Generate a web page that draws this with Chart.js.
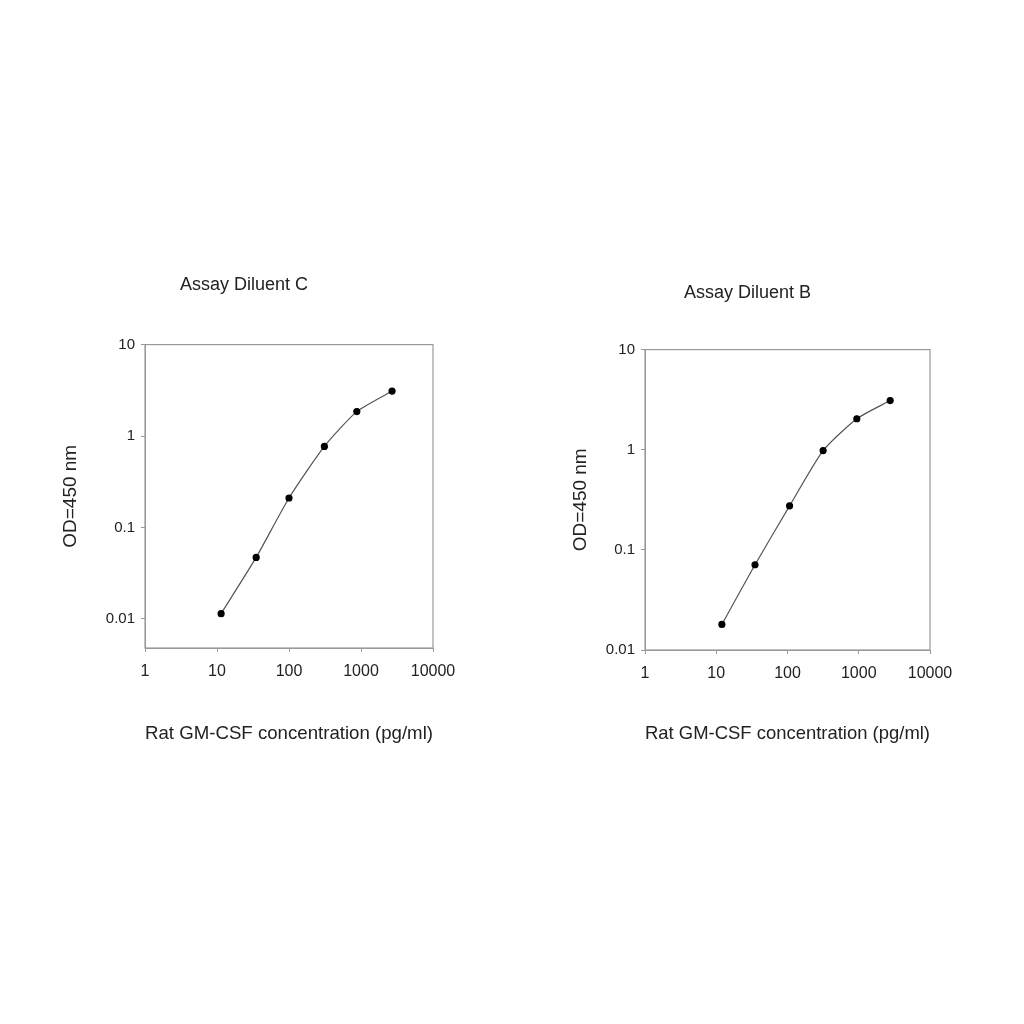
<!DOCTYPE html><html><head><script src="https://cdn.jsdelivr.net/npm/chart.js@4"></script>
<style>body{margin:0;background:#fff;width:1024px;height:1024px;position:relative}canvas{position:absolute}</style></head><body>
<canvas id="c1" style="left:55px;top:260px;width:468px;height:489px" width="468" height="489"></canvas>
<canvas id="c2" style="left:565px;top:260px;width:448px;height:489px" width="448" height="489"></canvas>
<script>
const concC=[11.4,35,100,310,875,2700];
const odC=[0.0114,0.047,0.21,0.77,1.85,3.1];
const concB=[12,35,107,316,940,2760];
const odB=[0.018,0.071,0.275,0.98,2.04,3.1];
const xTicks=[1,10,100,1000,10000];
const yTicks=[0.01,0.1,1,10];
const F='"Liberation Sans", Arial, sans-serif';
const border={id:'bx',afterDraw(c){const a=c.chartArea,x=c.ctx;x.save();x.strokeStyle='#999';x.lineWidth=1.2;x.strokeRect(a.left,a.top,a.right-a.left,a.bottom-a.top);x.restore();}};
function make(id,title,xs,ys,yw,padR,tTop,tBot,xh,ymin){
 new Chart(document.getElementById(id),{type:'line',
  data:{datasets:[{data:xs.map((v,i)=>({x:v,y:ys[i]})),borderColor:'#555',borderWidth:1.2,pointRadius:3,pointBackgroundColor:'#000',pointBorderColor:'#000',tension:0.2}]},
  options:{responsive:false,animation:false,layout:{padding:{left:0,right:padR,top:0,bottom:0}},
   plugins:{legend:{display:false},tooltip:{enabled:false},title:{display:true,text:title,color:'#222',font:{family:F,size:18,weight:'normal'},padding:{top:tTop,bottom:tBot}}},
   scales:{
    x:{type:'logarithmic',min:1,max:10000,afterBuildTicks:s=>{s.ticks=xTicks.map(v=>({value:v}))},
       ticks:{color:'#222',font:{family:F,size:16},padding:10,callback:v=>String(v),maxRotation:0,autoSkip:false},
       grid:{drawOnChartArea:false,tickLength:4,color:'#999'},border:{color:'#999'},
       title:{display:true,text:'Rat GM-CSF concentration (pg/ml)',color:'#222',font:{family:F,size:19},padding:{top:18}},
       afterFit:s=>{s.height=xh}},
    y:{type:'logarithmic',min:ymin,max:10,afterBuildTicks:s=>{s.ticks=yTicks.map(v=>({value:v}))},
       ticks:{color:'#222',font:{family:F,size:15},padding:6,callback:v=>String(v),autoSkip:false},
       grid:{drawOnChartArea:false,tickLength:4,color:'#999'},border:{color:'#999'},
       title:{display:true,text:'OD=450 nm',color:'#222',font:{family:F,size:19},padding:{bottom:12}},
       afterFit:s=>{s.width=yw}}}},
  plugins:[border]});
}
make('c1','Assay Diluent C',concC,odC,90,90,14,49,101,0.0048);
make('c2','Assay Diluent B',concB,odB,80,83,22,46,99,0.01);
</script></body></html>
